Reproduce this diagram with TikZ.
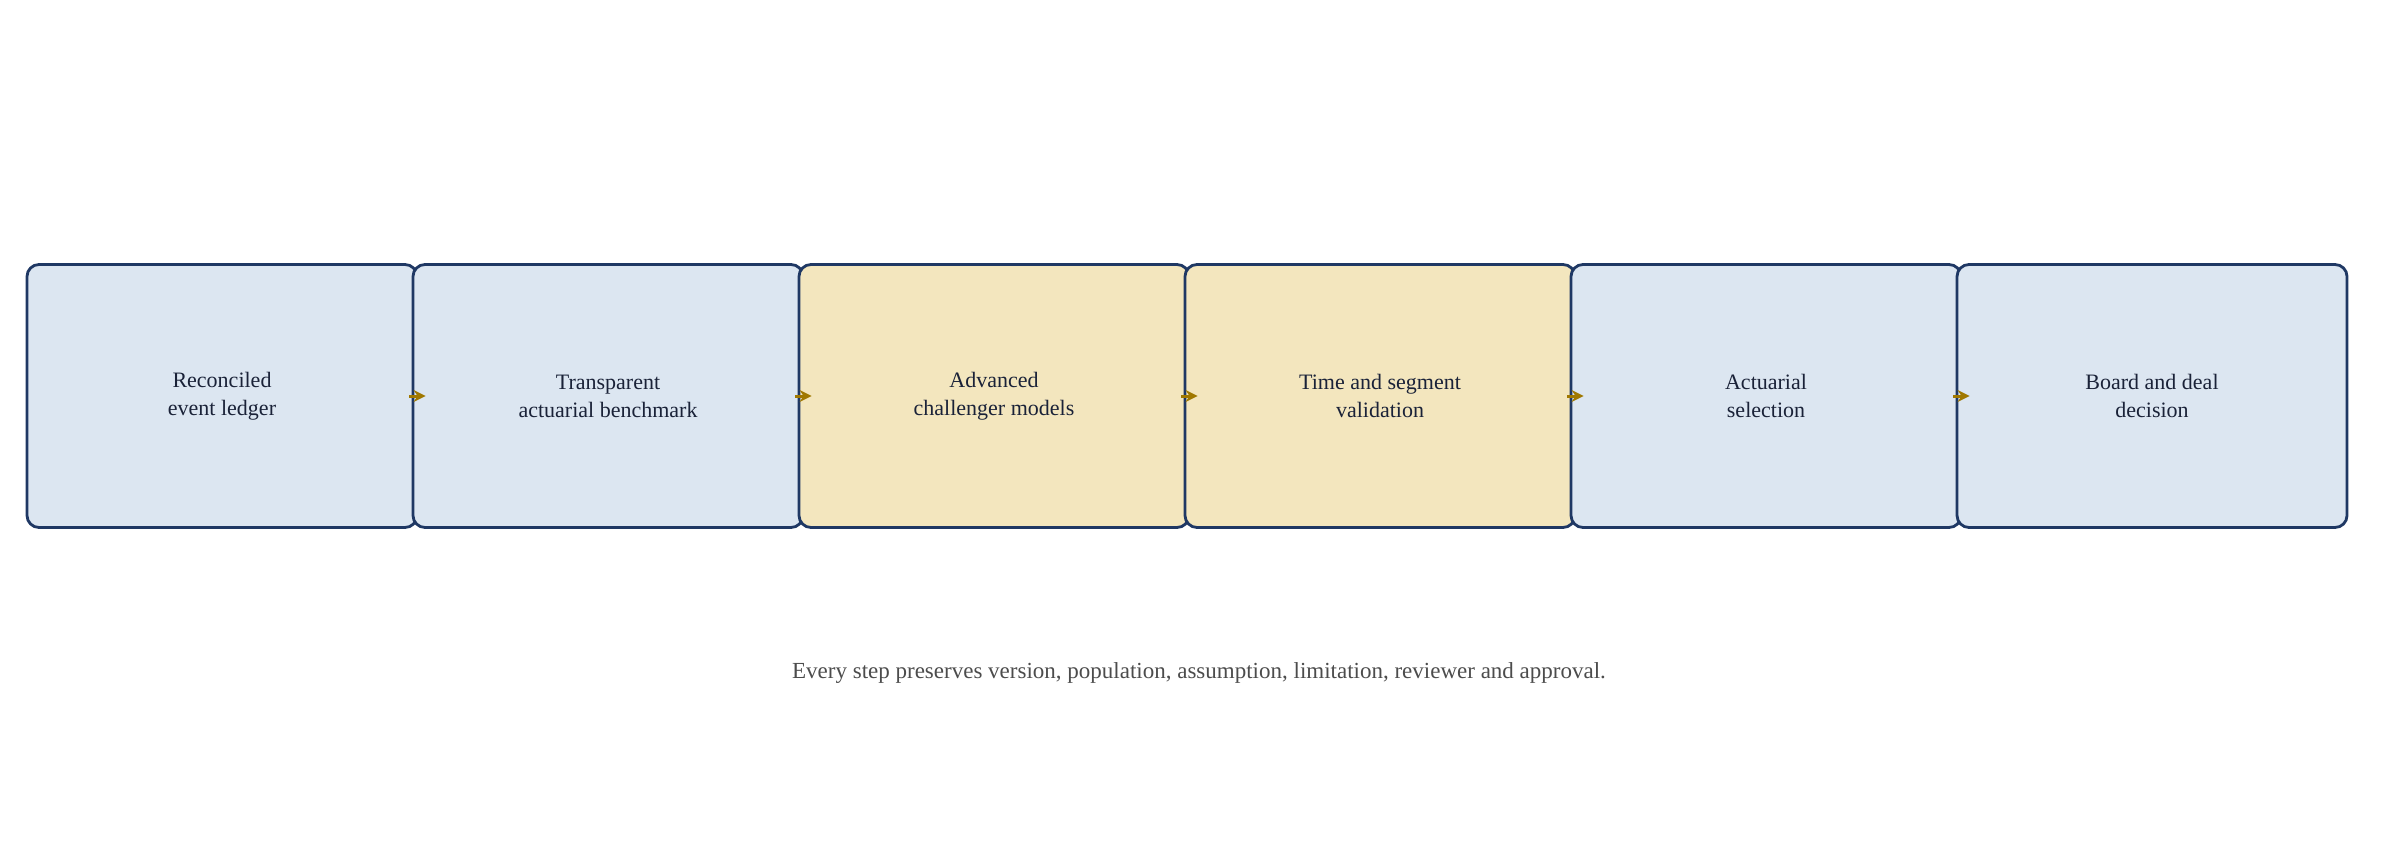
\documentclass[tikz,border=0pt]{standalone}
\usepackage{fontspec}
\setmainfont{Liberation Serif}
\usetikzlibrary{arrows.meta}
\definecolor{bfill}{HTML}{DCE6F1}
\definecolor{yfill}{HTML}{F3E6BE}
\definecolor{bord}{HTML}{1F3864}
\definecolor{gold}{HTML}{A07800}
\definecolor{txt}{HTML}{1A2238}
\begin{document}
\begin{tikzpicture}[x=1pt,y=-1pt,
  box/.style={draw=bord,line width=2.8pt,rounded corners=12pt,minimum width=390pt,minimum height=263pt,inner sep=0pt,align=center,font=\fontsize{22}{28}\selectfont,text=txt},
  blue/.style={box,fill=bfill},
  yel/.style={box,fill=yfill},
  arr/.style={draw=gold,line width=3pt,-{Stealth[length=12pt,width=12pt]}}]
\useasboundingbox (0,0) rectangle (2398,858);
\node[blue] (b1) at (222,396) {Reconciled\\event ledger};
\node[blue] (b2) at (608,396) {Transparent\\actuarial benchmark};
\node[yel]  (b3) at (994,396) {Advanced\\challenger models};
\node[yel]  (b4) at (1380,396) {Time and segment\\validation};
\node[blue] (b5) at (1766,396) {Actuarial\\selection};
\node[blue] (b6) at (2152,396) {Board and deal\\decision};
\foreach \a/\b in {b1/b2,b2/b3,b3/b4,b4/b5,b5/b6}
  \draw[arr] ([xshift=-9pt]\a.east) -- ([xshift=14pt]\b.west);
\node[font=\fontsize{23}{28}\selectfont,text=black!70] (foot) at (1199,673) {Every step preserves version, population, assumption, limitation, reviewer and approval.};
\end{tikzpicture}
\end{document}
